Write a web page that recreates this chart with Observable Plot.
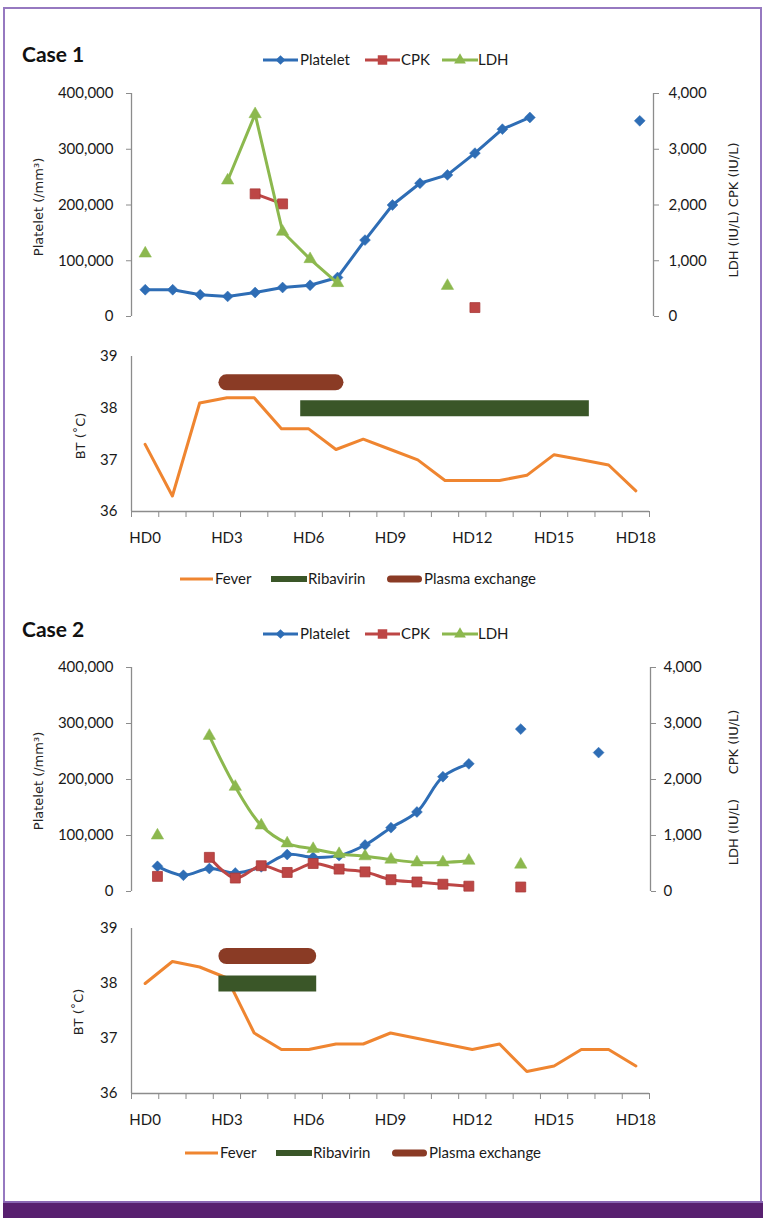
<!DOCTYPE html>
<html><head><meta charset="utf-8">
<script src="https://cdn.jsdelivr.net/npm/d3@7"></script>
<script src="https://cdn.jsdelivr.net/npm/@observablehq/plot@0.6"></script>
<style>
body{margin:0;background:#fff;}
#page{position:relative;width:765px;height:1230px;overflow:hidden;font-family:Lato,"DejaVu Sans",sans-serif;background:#fff;}
#frame{position:absolute;left:3px;top:7px;width:755px;height:1196px;border:2px solid #9679c0;border-bottom:none;}
#bar{position:absolute;left:3px;top:1201px;width:760px;height:15px;background:#58206f;border-top:2px solid #8a67b3;}
.abs{position:absolute;}
.case{position:absolute;font-family:Lato,sans-serif;font-weight:bold;font-size:21px;color:#111;transform:translateY(-50%);white-space:nowrap;}
.rot{position:absolute;font-family:"DejaVu Sans",sans-serif;font-size:13px;color:#222;white-space:nowrap;transform:translate(-50%,-50%) rotate(-90deg);}
</style></head>
<body><div id="page"><div id="frame"></div><div id="bar"></div></div>
<script>
// ---------- data ----------
const days = d3.range(19);                       // HD0 .. HD18
const hdTicks = [0, 3, 6, 9, 12, 15, 18];
const plateletTicks = [0, 100000, 200000, 300000, 400000];
const enzymeTicks = [0, 1000, 2000, 3000, 4000];
const btTicks = [36, 37, 38, 39];

// Case 1
const c1Platelet = [48000, 48000, 39000, 36000, 43000, 52000, 56000, 70000, 137000, 200000, 239000, 254000, 293000, 336000, 357000, null, null, null, 351000];
const c1CPK = [null, null, null, null, 2200, 2020, null, null, null, null, null, null, 160, null, null, null, null, null, null];
const c1LDH = [1130, null, null, 2440, 3630, 1520, 1030, 600, null, null, null, 550, null, null, null, null, null, null, null];
const c1Fever = [37.3, 36.3, 38.1, 38.2, 38.2, 37.6, 37.6, 37.2, 37.4, 37.2, 37.0, 36.6, 36.6, 36.6, 36.7, 37.1, 37.0, 36.9, 36.4];
const c1Ribavirin = {start: 6, end: 16, level: 38};
const c1Plasma = {start: 3, end: 7, level: 38.5};

// Case 2 (laboratory panel points)
const c2Index = d3.range(18);
const c2Platelet = [45000, 29000, 41000, 33000, 44000, 66000, 61000, 64000, 83000, 114000, 142000, 205000, 228000, null, 290000, null, null, 248000];
const c2CPK = [270, null, 610, 240, 460, 340, 500, 400, 350, 210, 170, 130, 95, null, 80, null, null, null];
const c2LDH = [1000, null, 2780, 1870, 1180, 860, 760, 670, 630, 570, 520, 520, 550, null, 480, null, null, null];
const c2Fever = [38.0, 38.4, 38.3, 38.1, 37.1, 36.8, 36.8, 36.9, 36.9, 37.1, 37.0, 36.9, 36.8, 36.9, 36.4, 36.5, 36.8, 36.8, 36.5];
const c2Ribavirin = {start: 3, end: 6, level: 38};
const c2Plasma = {start: 3, end: 6, level: 38.5};

// ---------- styles ----------
const BLUE = "#2e6db5", RED = "#bd4645", GREEN = "#8cb84e", ORANGE = "#ef8530", DKGREEN = "#3a5628", BROWN = "#8a3b25";
const GRAY = "#8c8c8c", TXT = "#1a1a1a";
const FONT = "Lato, 'DejaVu Sans', sans-serif";
const page = document.getElementById("page");

function put(el, top) {
  el.style.position = "absolute"; el.style.left = "0px"; el.style.top = top + "px";
  page.appendChild(el);
}
const fmt = d3.format(",");
const baseStyle = {fontFamily: FONT, fontSize: "15px", color: TXT, background: "transparent", overflow: "visible"};

function plateletPlot({top, height, mt, mb, mr, xDomain, xs, values, curve}) {
  const data = xs.map((x, i) => ({x, v: values[i]}));
  const svg = Plot.plot({
    width: 765, height, marginTop: mt, marginBottom: mb, marginLeft: 131, marginRight: mr,
    style: baseStyle,
    x: {domain: xDomain, axis: null},
    y: {domain: [0, 400000], axis: null},
    marks: [
      Plot.ruleX([xDomain[0]], {y1: 0, y2: 400000, stroke: GRAY, strokeWidth: 1.3}),
      Plot.axisY({ticks: plateletTicks, tickFormat: fmt, tickSize: 5, tickPadding: 13, stroke: GRAY, fill: TXT, label: null}),
      Plot.line(data, {x: "x", y: "v", stroke: BLUE, strokeWidth: 3, curve}),
      Plot.dot(data.filter(d => d.v != null), {x: "x", y: "v", symbol: "diamond2", r: 4.9, fill: BLUE, stroke: BLUE, strokeWidth: 0.5})
    ]
  });
  put(svg, top);
}

function enzymePlot({top, height, mt, mb, mr, xDomain, xs, cpk, ldh, curve, pad}) {
  const cd = xs.map((x, i) => ({x, v: cpk[i]}));
  const ld = xs.map((x, i) => ({x, v: ldh[i]}));
  const svg = Plot.plot({
    width: 765, height, marginTop: mt, marginBottom: mb, marginLeft: 131, marginRight: mr,
    style: baseStyle,
    x: {domain: xDomain, axis: null},
    y: {domain: [0, 4000], axis: null},
    marks: [
      Plot.ruleX([xDomain[1]], {y1: 0, y2: 4000, stroke: GRAY, strokeWidth: 1.3}),
      Plot.axisY({anchor: "right", ticks: enzymeTicks, tickFormat: fmt, tickSize: 5, tickPadding: pad, stroke: GRAY, fill: TXT, label: null}),
      Plot.line(cd, {x: "x", y: "v", stroke: RED, strokeWidth: 3, curve}),
      Plot.dot(cd.filter(d => d.v != null), {x: "x", y: "v", symbol: "square", r: 5.6, fill: RED, stroke: "#a83a38", strokeWidth: 0.8}),
      Plot.line(ld, {x: "x", y: "v", stroke: GREEN, strokeWidth: 3, curve}),
      Plot.dot(ld.filter(d => d.v != null), {x: "x", y: "v", symbol: "triangle", r: 4.6, fill: GREEN, stroke: GREEN, strokeWidth: 0.5})
    ]
  });
  put(svg, top);
}

function btPlot({top, height, fever, rib, plasma}) {
  const fd = days.map(d => ({x: d, v: fever[d]}));
  const svg = Plot.plot({
    width: 765, height, marginTop: 16, marginBottom: 40, marginLeft: 131, marginRight: 116,
    style: baseStyle,
    x: {domain: [-0.5, 18.5], axis: null},
    y: {domain: [36, 39], axis: null},
    marks: [
      Plot.ruleX([-0.5], {y1: 36, y2: 39, stroke: GRAY, strokeWidth: 1.3}),
      Plot.ruleY([36], {x1: -0.5, x2: 18.5, stroke: GRAY, strokeWidth: 1.3}),
      Plot.axisY({ticks: btTicks, tickSize: 0, tickPadding: 14, tickFormat: d3.format("d"), fill: TXT, label: null}),
      Plot.axisX({ticks: d3.range(-0.5, 19, 1), tickSize: 6, tickFormat: () => "", stroke: GRAY, label: null}),
      Plot.axisX({ticks: hdTicks, tickSize: 0, tickPadding: 21, tickFormat: d => "HD" + d, fill: TXT, label: null}),
      Plot.line(fd, {x: "x", y: "v", stroke: ORANGE, strokeWidth: 3}),
      Plot.ruleY([rib], {y: "level", x1: "start", x2: "end", stroke: DKGREEN, strokeWidth: 16, strokeLinecap: "square"}),
      Plot.ruleY([plasma], {y: "level", x1: "start", x2: "end", stroke: BROWN, strokeWidth: 16, strokeLinecap: "round"})
    ]
  });
  put(svg, top);
}

function text(cls, str, x, y) {
  const d = document.createElement("div");
  d.className = cls; d.textContent = str;
  d.style.left = x + "px"; d.style.top = y + "px";
  page.appendChild(d);
}

function legend(yc, items) {
  const svg = d3.create("svg").attr("width", 765).attr("height", 24)
    .style("position", "absolute").style("left", "0px").style("top", (yc - 12) + "px");
  for (const it of items) {
    const g = svg.append("g");
    if (it.kind === "line") {
      g.append("line").attr("x1", it.x0).attr("x2", it.x1).attr("y1", 12).attr("y2", 12)
        .attr("stroke", it.color).attr("stroke-width", 3);
      if (it.symbol) g.append("path").attr("d", d3.symbol(it.symbol, it.size)())
        .attr("transform", `translate(${(it.x0 + it.x1) / 2},12)`).attr("fill", it.color);
    } else if (it.kind === "bar") {
      g.append("rect").attr("x", it.x0).attr("y", 9).attr("width", it.x1 - it.x0).attr("height", 6).attr("fill", it.color);
    } else {
      g.append("rect").attr("x", it.x0).attr("y", 8.5).attr("width", it.x1 - it.x0).attr("height", 7).attr("rx", 3.5).attr("fill", it.color);
    }
    g.append("text").attr("x", it.tx).attr("y", 12).attr("dy", "0.35em").attr("fill", TXT)
      .style("font-family", FONT).style("font-size", "15px").text(it.label);
  }
  page.appendChild(svg.node());
}

function labLegend(yc) {
  legend(yc, [
    {kind: "line", x0: 263, x1: 298, color: BLUE, symbol: d3.symbolDiamond2, size: 60, tx: 300, label: "Platelet"},
    {kind: "line", x0: 365, x1: 400, color: RED, symbol: d3.symbolSquare, size: 90, tx: 401, label: "CPK"},
    {kind: "line", x0: 442, x1: 478, color: GREEN, symbol: d3.symbolTriangle, size: 60, tx: 478, label: "LDH"}
  ]);
}
function btLegend(yc, dx) {
  legend(yc, [
    {kind: "line", x0: 180 + dx, x1: 213 + dx, color: ORANGE, tx: 215 + dx, label: "Fever"},
    {kind: "bar", x0: 271 + dx, x1: 307 + dx, color: DKGREEN, tx: 308 + dx, label: "Ribavirin"},
    {kind: "round", x0: 387 + dx, x1: 422 + dx, color: BROWN, tx: 424 + dx, label: "Plasma exchange"}
  ]);
}

// ---------- Case 1 ----------
text("case", "Case 1", 22, 53);
labLegend(60);
plateletPlot({top: 80, height: 250, mt: 13, mb: 14, mr: 112, xDomain: [-0.5, 18.5], xs: days, values: c1Platelet});
enzymePlot({top: 80, height: 250, mt: 13, mb: 14, mr: 112, xDomain: [-0.5, 18.5], xs: days, cpk: c1CPK, ldh: c1LDH, pad: 10});
text("rot", "Platelet (/mm³)", 38, 207);
text("rot", "LDH (IU/L) CPK (IU/L)", 733, 210);
btPlot({top: 340, height: 211, fever: c1Fever, rib: c1Ribavirin, plasma: c1Plasma});
text("rot", "BT (˚C)", 80, 436);
btLegend(579, 0);

// ---------- Case 2 ----------
text("case", "Case 2", 22, 628);
labLegend(634);
plateletPlot({top: 654, height: 251, mt: 13, mb: 14, mr: 115, xDomain: [-1, 19], xs: c2Index, values: c2Platelet, curve: "catmull-rom"});
enzymePlot({top: 654, height: 251, mt: 13, mb: 14, mr: 115, xDomain: [-1, 19], xs: c2Index, cpk: c2CPK, ldh: c2LDH, curve: "catmull-rom", pad: 8});
text("rot", "Platelet (/mm³)", 38, 781);
text("rot", "CPK (IU/L)", 733, 742);
text("rot", "LDH (IU/L)", 733, 832);
btPlot({top: 912, height: 221, fever: c2Fever, rib: c2Ribavirin, plasma: c2Plasma});
text("rot", "BT (˚C)", 78, 1012);
btLegend(1153, 5);
</script></body></html>
